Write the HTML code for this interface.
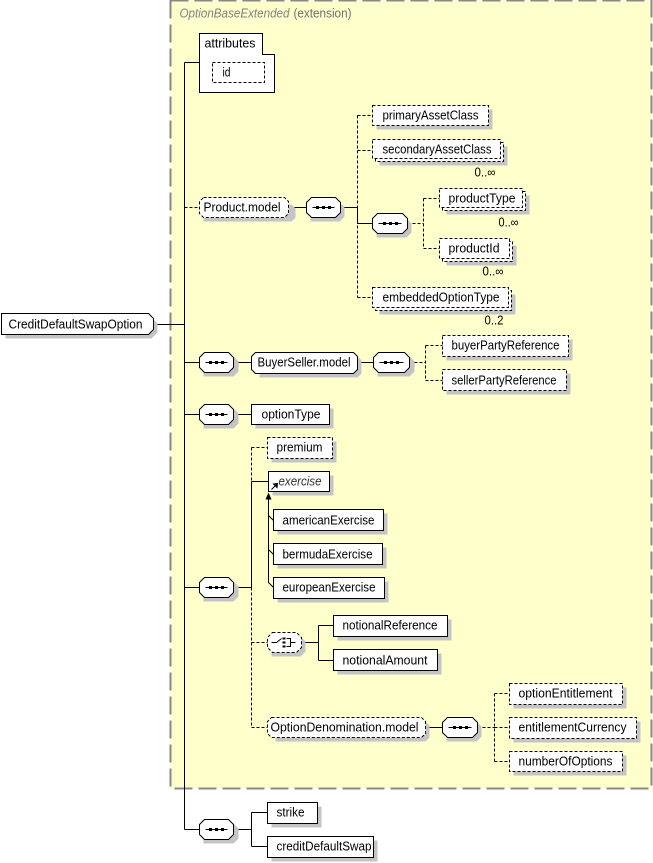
<!DOCTYPE html>
<html><head><meta charset="utf-8"><style>
html,body{margin:0;padding:0;background:#fff;}
svg{display:block;}
text{font-family:"Liberation Sans","DejaVu Sans",sans-serif;font-size:12.5px;fill:#000;}
</style></head><body>
<svg width="653" height="863" viewBox="0 0 653 863" xmlns="http://www.w3.org/2000/svg">
<rect x="0" y="0" width="653" height="863" fill="#fff"/>
<g transform="translate(0.5,0.5)">
<!-- extension background -->
<rect x="170" y="0" width="481" height="788" fill="#ffffcc" stroke="#888" stroke-width="2" stroke-dasharray="18,6"/>
<text x="179" y="17" textLength="110" lengthAdjust="spacingAndGlyphs" style="font-style:italic;fill:#808080">OptionBaseExtended</text>
<text x="293" y="17" textLength="58" lengthAdjust="spacingAndGlyphs" style="fill:#707070">(extension)</text>

<g stroke="#000" stroke-width="1" fill="none">
<!-- solid connectors -->
<path d="M153,324H184 M184,62V829 M184,62H199 M288,207H306 M340,207H357V223H372
M184,362H199 M233,362H251 M357,362H373 M184,414H199 M233,414H251
M184,587H199 M233,587H251 M251,481V587 M251,481H268
M268,498V582 L273,587 M268,515L273,520 M268,549L273,554
M301,642H318 M318,625V660 M318,625H333 M318,660H333
M425,727H442 M184,829H199 M233,829H251 M251,812V846 M251,812H267 M251,846H267"/>
</g>
<g stroke="#000" stroke-width="1" fill="none" stroke-dasharray="3,2">
<path d="M184,207H199 M357,115V297 M357,115H372 M357,150H372 M357,297H372
M407,223H423 M423,198V248 M423,198H439 M423,248H439
M409,362H425 M425,345V380 M425,345H442 M425,380H442
M251,447V481 M251,587V727 M251,447H267 M251,642H267 M251,727H267
M477,727H494 M494,693V761 M494,693H509 M494,727H509 M494,761H509"/>
</g>
<!-- substitution arrowhead -->
<polygon points="268,492 265,499 271,499" fill="#000"/>

<!-- shadows -->
<g fill="#c4c4c4">
<rect x="216" y="66" width="52" height="20"/>
<rect x="376" y="109" width="116" height="20"/>
<rect x="379" y="146" width="128" height="19"/>
<rect x="446" y="195" width="83" height="19"/>
<rect x="446" y="245" width="70" height="20"/>
<rect x="379" y="294" width="136" height="20"/>
<polygon points="5,317 151,317 157,323 157,332 151,338 5,338"/>
<polygon points="203,204 291,204 295,208 295,217 291,221 203,221"/>
<polygon points="310,202 339,202 344,207 344,216 339,221 310,221"/>
<polygon points="376,218 406,218 411,223 411,232 406,237 376,237"/>
<polygon points="203,356 233,356 238,361 238,371 233,376 203,376"/>
<polygon points="259,356 357,356 361,360 361,373 357,377 259,377"/>
<polygon points="377,356 409,356 414,361 414,371 409,376 377,376"/>
<rect x="446" y="339" width="126" height="21"/>
<rect x="446" y="373" width="124" height="21"/>
<polygon points="203,408 233,408 238,413 238,423 233,428 203,428"/>
<rect x="255" y="408" width="78" height="20"/>
<rect x="271" y="441" width="65" height="21"/>
<rect x="272" y="475" width="61" height="20"/>
<rect x="277" y="513" width="110" height="21"/>
<rect x="277" y="547" width="109" height="21"/>
<rect x="277" y="581" width="111" height="21"/>
<polygon points="203,581 233,581 238,586 238,596 233,601 203,601"/>
<polygon points="271,636 300,636 305,641 305,651 300,656 271,656"/>
<rect x="337" y="619" width="114" height="21"/>
<rect x="337" y="653" width="104" height="21"/>
<polygon points="275,721 425,721 429,725 429,737 425,741 275,741"/>
<polygon points="446,721 476,721 481,726 481,736 476,741 446,741"/>
<rect x="513" y="687" width="113" height="21"/>
<rect x="513" y="721" width="127" height="21"/>
<rect x="513" y="755" width="113" height="20"/>
<polygon points="203,823 233,823 238,828 238,838 233,843 203,843"/>
<rect x="271" y="806" width="50" height="21"/>
<rect x="271" y="840" width="106" height="21"/>
</g>

<!-- attributes -->
<path d="M199,33H262V54H274V92H199Z" fill="#fff" stroke="#000"/>
<text x="204" y="47" textLength="51" lengthAdjust="spacingAndGlyphs">attributes</text>
<rect x="212" y="62" width="52" height="20" fill="#fff" stroke="#000" stroke-dasharray="3,2"/>
<text x="222" y="76" textLength="8" lengthAdjust="spacingAndGlyphs">id</text>

<!-- root -->
<polygon points="1,313 148,313 153,318 153,329 148,334 1,334" fill="#fff" stroke="#000"/>
<text x="8" y="328" textLength="134" lengthAdjust="spacingAndGlyphs">CreditDefaultSwapOption</text>

<!-- Product.model group -->
<polygon points="203,197 284,197 288,201 288,213 284,217 203,217 199,213 199,201" fill="#fff" stroke="#000" stroke-dasharray="3,2"/>
<text x="203" y="211" textLength="77" lengthAdjust="spacingAndGlyphs">Product.model</text>

<!-- sequences -->
<g fill="#fff" stroke="#000">
<polygon points="311,197 335,197 340,202 340,212 335,217 311,217 306,212 306,202"/>
<polygon points="377,213 402,213 407,218 407,228 402,233 377,233 372,228 372,218"/>
<polygon points="204,352 228,352 233,357 233,367 228,372 204,372 199,367 199,357"/>
<polygon points="378,352 404,352 409,357 409,367 404,372 378,372 373,367 373,357"/>
<polygon points="204,404 228,404 233,409 233,419 228,424 204,424 199,419 199,409"/>
<polygon points="204,577 228,577 233,582 233,592 228,597 204,597 199,592 199,582"/>
<polygon points="447,717 472,717 477,722 477,732 472,737 447,737 442,732 442,722"/>
<polygon points="204,819 228,819 233,824 233,834 228,839 204,839 199,834 199,824"/>
</g>
<g stroke="#000" fill="#000">
<path d="M312,207H334 M378,223H401 M205,362H227 M379,362H403 M205,414H227 M205,587H227 M448,727H471 M205,829H227" fill="none"/>
<rect x="316" y="206" width="2" height="2"/><rect x="322" y="206" width="2" height="2"/><rect x="328" y="206" width="2" height="2"/>
<rect x="383" y="222" width="2" height="2"/><rect x="389" y="222" width="2" height="2"/><rect x="395" y="222" width="2" height="2"/>
<rect x="209" y="361" width="2" height="2"/><rect x="215" y="361" width="2" height="2"/><rect x="221" y="361" width="2" height="2"/>
<rect x="384" y="361" width="2" height="2"/><rect x="390" y="361" width="2" height="2"/><rect x="396" y="361" width="2" height="2"/>
<rect x="209" y="413" width="2" height="2"/><rect x="215" y="413" width="2" height="2"/><rect x="221" y="413" width="2" height="2"/>
<rect x="209" y="586" width="2" height="2"/><rect x="215" y="586" width="2" height="2"/><rect x="221" y="586" width="2" height="2"/>
<rect x="453" y="726" width="2" height="2"/><rect x="459" y="726" width="2" height="2"/><rect x="465" y="726" width="2" height="2"/>
<rect x="209" y="828" width="2" height="2"/><rect x="215" y="828" width="2" height="2"/><rect x="221" y="828" width="2" height="2"/>
</g>

<!-- choice -->
<polygon points="272,632 296,632 301,637 301,647 296,652 272,652 267,647 267,637" fill="#fff" stroke="#000" stroke-dasharray="3,2"/>
<g stroke="#000" fill="none">
<path d="M271,642H276L281,638 M286,638H290V646H286 M290,642H295"/>
</g>
<g fill="#000">
<rect x="282" y="637" width="3" height="2"/><rect x="282" y="641" width="3" height="2"/><rect x="282" y="645" width="3" height="2"/>
</g>

<!-- multi-occurrence boxes -->
<g fill="#fff" stroke="#000" stroke-dasharray="3,2">
<rect x="375" y="142" width="128" height="19"/>
<rect x="372" y="139" width="128" height="19"/>
<rect x="442" y="191" width="83" height="19"/>
<rect x="439" y="188" width="83" height="19"/>
<rect x="442" y="241" width="70" height="20"/>
<rect x="439" y="238" width="70" height="20"/>
<rect x="375" y="290" width="136" height="20"/>
<rect x="372" y="287" width="136" height="20"/>
<rect x="372" y="105" width="116" height="20"/>
<rect x="442" y="335" width="126" height="21"/>
<rect x="442" y="369" width="124" height="21"/>
<rect x="267" y="437" width="65" height="21"/>
<rect x="509" y="683" width="113" height="21"/>
<rect x="509" y="717" width="127" height="21"/>
<rect x="509" y="751" width="113" height="20"/>
<polygon points="271,717 421,717 425,721 425,733 421,737 271,737 267,733 267,721"/>
</g>
<g fill="#fff" stroke="#000">
<polygon points="255,352 353,352 357,356 357,369 353,373 255,373 251,369 251,356"/>
<rect x="251" y="404" width="78" height="20"/>
<rect x="268" y="471" width="61" height="20"/>
<rect x="273" y="509" width="110" height="21"/>
<rect x="273" y="543" width="109" height="21"/>
<rect x="273" y="577" width="111" height="21"/>
<rect x="333" y="615" width="114" height="21"/>
<rect x="333" y="649" width="104" height="21"/>
<rect x="267" y="802" width="50" height="21"/>
<rect x="267" y="836" width="106" height="21"/>
</g>
<!-- exercise abstract icon -->
<g stroke="#000" fill="#000">
<path d="M271,489L276,484" fill="none"/>
<polygon points="277,483 273,483.5 276.5,487"/>
</g>

<!-- labels -->
<text x="382" y="119" textLength="96" lengthAdjust="spacingAndGlyphs">primaryAssetClass</text>
<text x="382" y="153" textLength="109" lengthAdjust="spacingAndGlyphs">secondaryAssetClass</text>
<text x="474" y="176" textLength="21" lengthAdjust="spacingAndGlyphs">0..∞</text>
<text x="448" y="202" textLength="67" lengthAdjust="spacingAndGlyphs">productType</text>
<text x="498" y="226" textLength="20" lengthAdjust="spacingAndGlyphs">0..∞</text>
<text x="448" y="252" textLength="51" lengthAdjust="spacingAndGlyphs">productId</text>
<text x="482" y="275" textLength="21" lengthAdjust="spacingAndGlyphs">0..∞</text>
<text x="382" y="301" textLength="117" lengthAdjust="spacingAndGlyphs">embeddedOptionType</text>
<text x="484" y="324" textLength="19" lengthAdjust="spacingAndGlyphs">0..2</text>
<text x="257" y="366" textLength="93" lengthAdjust="spacingAndGlyphs">BuyerSeller.model</text>
<text x="451" y="349" textLength="108" lengthAdjust="spacingAndGlyphs">buyerPartyReference</text>
<text x="451" y="384" textLength="105" lengthAdjust="spacingAndGlyphs">sellerPartyReference</text>
<text x="261" y="418" textLength="59" lengthAdjust="spacingAndGlyphs">optionType</text>
<text x="276" y="451" textLength="46" lengthAdjust="spacingAndGlyphs">premium</text>
<text x="278" y="485" textLength="43" lengthAdjust="spacingAndGlyphs" style="font-style:italic;fill:#333">exercise</text>
<text x="282" y="524" textLength="92" lengthAdjust="spacingAndGlyphs">americanExercise</text>
<text x="282" y="558" textLength="90" lengthAdjust="spacingAndGlyphs">bermudaExercise</text>
<text x="282" y="591" textLength="93" lengthAdjust="spacingAndGlyphs">europeanExercise</text>
<text x="342" y="629" textLength="95" lengthAdjust="spacingAndGlyphs">notionalReference</text>
<text x="342" y="664" textLength="85" lengthAdjust="spacingAndGlyphs">notionalAmount</text>
<text x="270" y="731" textLength="148" lengthAdjust="spacingAndGlyphs">OptionDenomination.model</text>
<text x="518" y="697" textLength="94" lengthAdjust="spacingAndGlyphs">optionEntitlement</text>
<text x="518" y="731" textLength="108" lengthAdjust="spacingAndGlyphs">entitlementCurrency</text>
<text x="518" y="765" textLength="94" lengthAdjust="spacingAndGlyphs">numberOfOptions</text>
<text x="276" y="816" textLength="28" lengthAdjust="spacingAndGlyphs">strike</text>
<text x="276" y="850" textLength="95" lengthAdjust="spacingAndGlyphs">creditDefaultSwap</text>
</g>
</svg>
</body></html>
